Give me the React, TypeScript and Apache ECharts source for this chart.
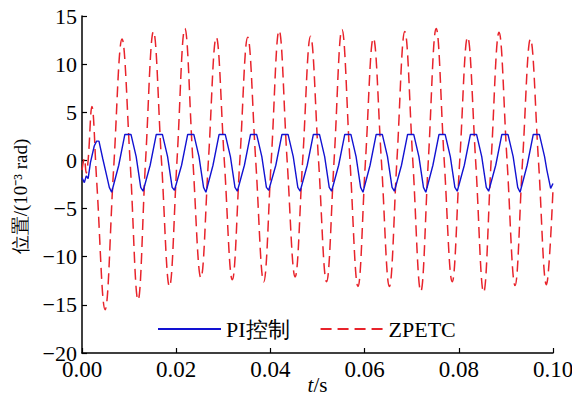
import React, { useEffect, useRef } from "react";
import * as echarts from "echarts";

const seriesNames = ["PI控制", "ZPETC"];

// PI control response [t (s), position (10^-3 rad)]
const piData: [number, number][] = [
  [0, -1.8], [0.0005, -2.3], [0.0009, -1.6], [0.0013, -1.9], [0.0018, -0.2], [0.0026, 1.5],
  [0.0031, 2.0], [0.0036, 2.0], [0.0044, 0.2], [0.0052, -1.5], [0.0058, -2.8], [0.0063, -3.3],
  [0.0078, -0.5], [0.0091, 2.7], [0.0104, 2.7], [0.0115, 0.4], [0.01247, -2.8], [0.01297, -3.2],
  [0.01447, -0.5], [0.01577, 2.7], [0.01707, 2.7], [0.01817, 0.4], [0.01914, -2.8], [0.01964, -3.1],
  [0.02114, -0.5], [0.02244, 2.7], [0.02374, 2.7], [0.02484, 0.4], [0.02581, -2.8], [0.02631, -3.3],
  [0.02781, -0.5], [0.02911, 2.7], [0.03041, 2.7], [0.03151, 0.4], [0.03248, -2.8], [0.03298, -3.2],
  [0.03448, -0.5], [0.03578, 2.7], [0.03708, 2.7], [0.03818, 0.4], [0.03915, -2.8], [0.03965, -3.1],
  [0.04115, -0.5], [0.04245, 2.7], [0.04375, 2.7], [0.04485, 0.4], [0.04582, -2.8], [0.04632, -3.2],
  [0.04782, -0.5], [0.04912, 2.7], [0.05042, 2.7], [0.05152, 0.4], [0.05249, -2.8], [0.05299, -3.2],
  [0.05449, -0.5], [0.05579, 2.7], [0.05709, 2.7], [0.05819, 0.4], [0.05916, -2.8], [0.05966, -3.3],
  [0.06116, -0.5], [0.06246, 2.7], [0.06376, 2.7], [0.06486, 0.4], [0.06583, -2.8], [0.06633, -3.2],
  [0.06783, -0.5], [0.06913, 2.7], [0.07043, 2.7], [0.07153, 0.4], [0.0725, -2.8], [0.073, -3.3],
  [0.0745, -0.5], [0.0758, 2.7], [0.0771, 2.7], [0.0782, 0.4], [0.07917, -2.8], [0.07967, -3.2],
  [0.08117, -0.5], [0.08247, 2.7], [0.08377, 2.7], [0.08487, 0.4], [0.08584, -2.8], [0.08634, -3.2],
  [0.08784, -0.5], [0.08914, 2.7], [0.09044, 2.7], [0.09154, 0.4], [0.09251, -2.8], [0.09301, -3.3],
  [0.09451, -0.5], [0.09581, 2.7], [0.09711, 2.7], [0.09821, 0.4], [0.0987, -1.0], [0.0995, -2.9],
  [0.1, -2.4],
];

// ZPETC response [t (s), position (10^-3 rad)]
const zpetcData: [number, number][] = [
  [0, -1.0], [0.0005, 0.2], [0.0009, -1.3], [0.0013, 0.0], [0.0021, 5.6], [0.0031, -2.0],
  [0.0049, -15.5], [0.0067, -1.0], [0.0085, 12.6],
  [0.0102, 0], [0.0119, -14.5], [0.0135, 0], [0.01517, 13.4],
  [0.01687, 0], [0.01857, -13.1], [0.02017, 0], [0.02184, 13.7],
  [0.02354, 0], [0.02524, -12.2], [0.02684, 0], [0.02851, 12.8],
  [0.03021, 0], [0.03191, -12.4], [0.03351, 0], [0.03518, 12.8],
  [0.03688, 0], [0.03858, -12.6], [0.04018, 0], [0.04185, 13.5],
  [0.04355, 0], [0.04525, -12.1], [0.04685, 0], [0.04852, 12.9],
  [0.05022, 0], [0.05192, -12.6], [0.05352, 0], [0.05519, 13.6],
  [0.05689, 0], [0.05859, -13.1], [0.06019, 0], [0.06186, 12.7],
  [0.06356, 0], [0.06526, -13.1], [0.06686, 0], [0.06853, 13.4],
  [0.07023, 0], [0.07193, -13.6], [0.07353, 0], [0.0752, 13.7],
  [0.0769, 0], [0.0786, -12.6], [0.0802, 0], [0.08187, 12.8],
  [0.08357, 0], [0.08527, -13.7], [0.08687, 0], [0.08854, 13.3],
  [0.09024, 0], [0.09194, -13.0], [0.09354, 0], [0.09521, 12.6],
  [0.09691, 0], [0.09861, -12.9], [0.1, -3.0],
];

const xTicks = { min: 0, max: 0.1, interval: 0.02 };
const yTicks = { min: -20, max: 15, interval: 5 };

const FONT = "Liberation Serif, Times New Roman, serif";

export default function App() {
  const ref = useRef<HTMLDivElement>(null);
  useEffect(() => {
    if (!ref.current) return;
    const chart = echarts.init(ref.current, null, { renderer: "svg" });
    chart.setOption({
      animation: false,
      backgroundColor: "#ffffff",
      textStyle: { fontFamily: FONT, color: "#000" },
      grid: { left: 82, right: 19, top: 16, bottom: 45, containLabel: false, outerBoundsMode: "none" },
      legend: {
        left: 152,
        top: 313,
        itemWidth: 63,
        itemHeight: 14,
        itemGap: 30,
        itemStyle: { opacity: 0 },
        textStyle: { fontFamily: FONT, fontSize: 22, color: "#000" },
        data: seriesNames,
      },
      xAxis: {
        type: "value",
        min: xTicks.min,
        max: xTicks.max,
        interval: xTicks.interval,
        name: "{it|t}/s",
        nameLocation: "middle",
        nameGap: 21,
        nameMoveOverlap: false,
        nameTextStyle: {
          fontFamily: FONT,
          fontSize: 21,
          color: "#000",
          rich: { it: { fontStyle: "italic", fontFamily: FONT, fontSize: 21, color: "#000" } },
        },
        axisLine: { show: true, onZero: false, lineStyle: { color: "#000", width: 1.5 } },
        axisTick: { show: true, inside: true, length: 5, lineStyle: { color: "#000", width: 1.2 } },
        axisLabel: {
          fontFamily: FONT,
          fontSize: 23,
          color: "#000",
          margin: 5,
          formatter: (v: number) => v.toFixed(2),
        },
        splitLine: { show: false },
      },
      yAxis: {
        type: "value",
        min: yTicks.min,
        max: yTicks.max,
        interval: yTicks.interval,
        name: "位置/(10⁻³ rad)",
        nameLocation: "middle",
        nameGap: 52,
        nameRotate: 90,
        nameMoveOverlap: false,
        nameTextStyle: {
          fontFamily: FONT,
          fontSize: 19,
          color: "#000",
          padding: [0, 24, 0, 0],
        },
        axisLine: { show: true, onZero: false, lineStyle: { color: "#000", width: 1.5 } },
        axisTick: { show: true, inside: true, length: 5, lineStyle: { color: "#000", width: 1.2 } },
        axisLabel: {
          fontFamily: FONT,
          fontSize: 22,
          color: "#000",
          margin: 5,
          formatter: (v: number) => String(v).replace("-", "−"),
        },
        splitLine: { show: false },
      },
      series: [
        {
          name: seriesNames[0],
          type: "line",
          data: piData,
          symbol: "none",
          lineStyle: { color: "#1212d2", width: 1.4 },
          itemStyle: { color: "#1212d2" },
          z: 3,
        },
        {
          name: seriesNames[1],
          type: "line",
          data: zpetcData,
          symbol: "none",
          smooth: 0.4,
          lineStyle: { color: "#e8232b", width: 1.5, type: [11, 6] },
          itemStyle: { color: "#e8232b" },
          z: 2,
        },
      ],
    });
    return () => chart.dispose();
  }, []);
  return <div ref={ref} style={{ width: 572, height: 398, position: "absolute", left: 0, top: 0 }} />;
}
